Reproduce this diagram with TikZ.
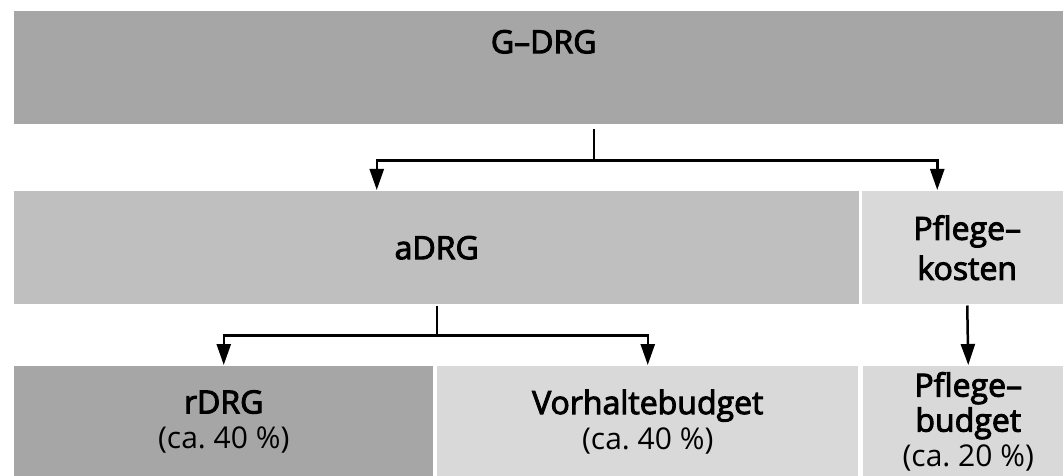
\documentclass[tikz,border=0pt]{standalone}
\usepackage{fontspec}
\setmainfont{Open Sans}[BoldFont={Open Sans}, BoldFeatures={FakeBold=3}]
\usetikzlibrary{arrows.meta}
\definecolor{dunkel}{HTML}{A6A6A6}
\definecolor{mittel}{HTML}{BFBFBF}
\definecolor{hell}{HTML}{D9D9D9}
\newcommand{\anteil}[1]{\\{\mdseries\fontsize{30}{35}\selectfont (ca.~#1~\%)}}
\tikzset{
  feld/.style={anchor=north west, inner sep=0pt, align=center,
    font=\bfseries\fontsize{32}{35}\selectfont},
}
\begin{document}
\begin{tikzpicture}[x=1pt, y=-1pt, >={Triangle[length=21pt,width=14pt]}, line width=2.5pt]
        \clip (0,0) rectangle (1063,476);
        % obere Ebene
        \node[feld, fill=dunkel, minimum width=1059pt, minimum height=113pt,
              text height=23pt, text depth=52pt] (gdrg) at (13,10) {G--DRG};
        % mittlere Ebene
        \node[feld, fill=mittel, minimum width=845pt, minimum height=113pt] (adrg) at (13,190) {aDRG};
        \node[feld, fill=hell, minimum width=210pt, minimum height=113pt] (pkosten) at (861,190) {Pflege--\\[5pt]kosten};
        % untere Ebene
        \node[feld, fill=dunkel, minimum width=419pt, minimum height=111pt] (rdrg) at (13,365) {rDRG\anteil{40}};
        \node[feld, fill=hell, minimum width=421pt, minimum height=111pt] (vorhalte) at (436,365) {Vorhaltebudget\anteil{40}};
        \node[feld, fill=hell, minimum width=210pt, minimum height=111pt] (pbudget) at (862,365) {Pflege--\\budget\anteil{20}};
        % Pfeile
        \draw[->] ([xshift=50pt, yshift=-4pt]gdrg.south) -- ++(0,31) -| ([xshift=-60pt]adrg.north);
        \draw[->] ([xshift=50pt, yshift=-4pt]gdrg.south) -- ++(0,31) -| ([xshift=-30pt]pkosten.north);
        \draw[->] (adrg.south) -- ++(0,30) -| (rdrg.north);
        \draw[->] (adrg.south) -- ++(0,30) -| (vorhalte.north);
        \draw[->] (pkosten.south) -- (pbudget.north);
    \end{tikzpicture}
\end{document}
